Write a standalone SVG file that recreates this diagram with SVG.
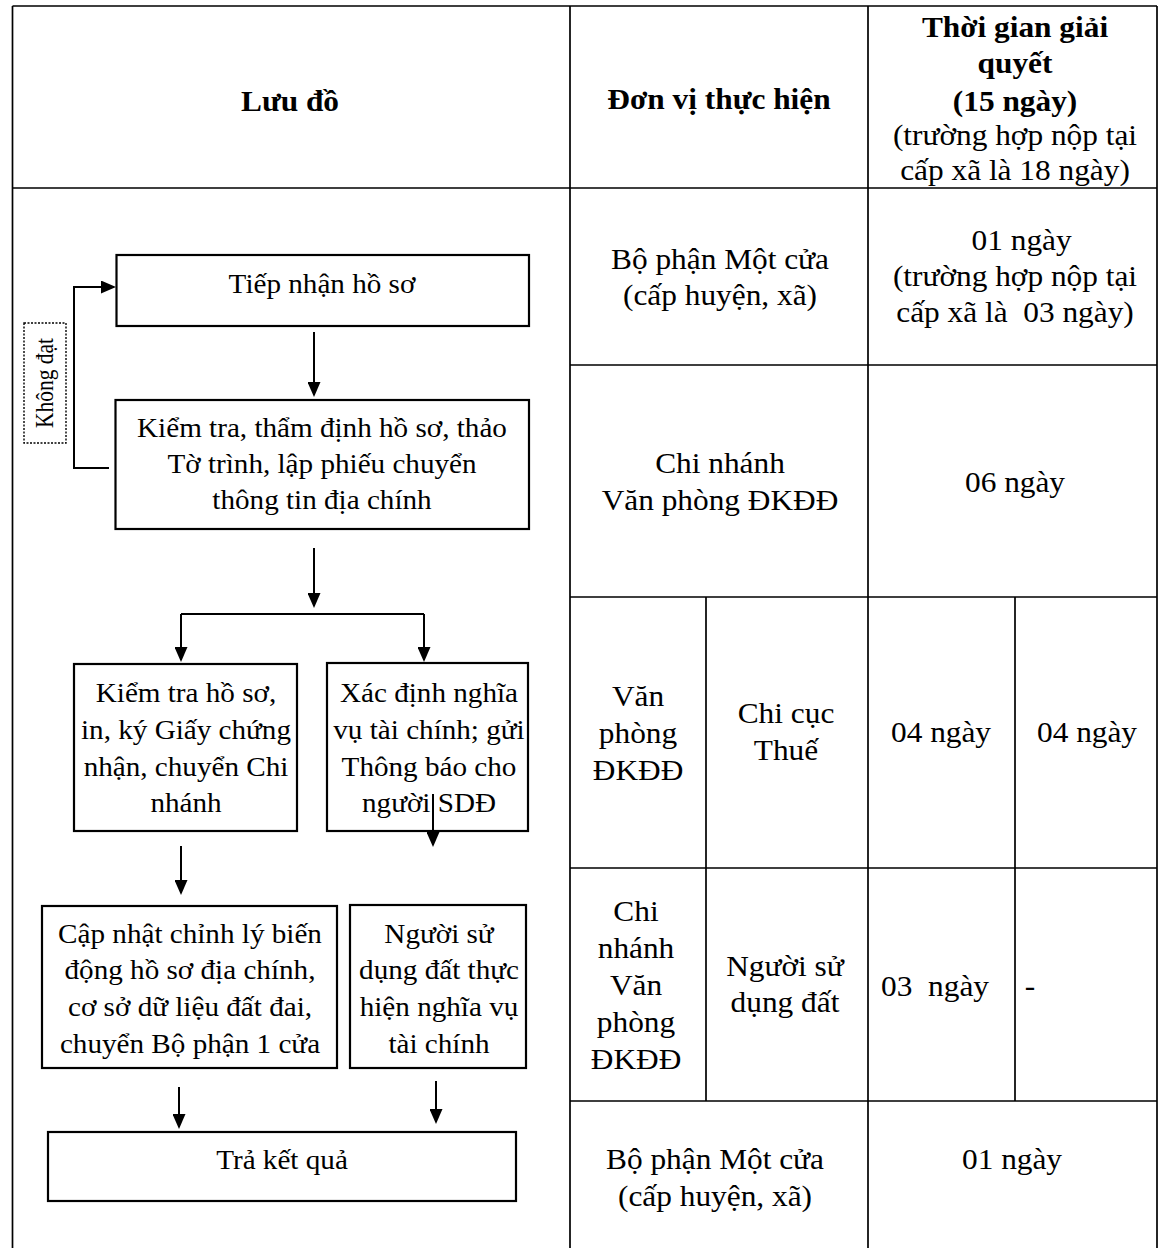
<svg xmlns="http://www.w3.org/2000/svg" width="1158" height="1248" viewBox="0 0 1158 1248">
<style>
.tbl{stroke:#000;stroke-width:1.7;fill:none}
.box{fill:none;stroke:#000;stroke-width:2.2}
.c{stroke:#000;stroke-width:2;fill:none}
.dash{fill:none;stroke:#000;stroke-width:1.4;stroke-dasharray:2 1.5}
.t{font-family:"Liberation Serif","Times New Roman",serif;font-size:28.5px;fill:#000;text-anchor:middle}
.b{font-weight:bold}
.f{font-size:26.5px}
.k{font-size:21.5px}
</style>
<defs>
<marker id="ah" markerUnits="userSpaceOnUse" markerWidth="15" markerHeight="13" refX="13" refY="6.5" orient="auto">
<path d="M0,0 L15,6.5 L0,13 z" fill="#000"/>
</marker>
</defs>
<rect x="0" y="0" width="1158" height="1248" fill="#fff"/>

<g id="table">
<path class="tbl" d="M12.5,6 V1248 M12.5,6 H1157 M1157,6 V1248 M12.5,188 H1157 M570,6 V1248 M868,6 V1248 M570,365 H1157 M570,597 H1157 M570,868 H1157 M570,1101 H1157 M706,597 V1101 M1015,597 V1101"/>
</g>

<g id="header">
<text class="t b" transform="translate(290 111) scale(1.1 1)">Lưu đồ</text>
<text class="t b" transform="translate(719 109) scale(1.1 1)">Đơn vị thực hiện</text>
<text class="t" transform="translate(1015 37) scale(1.1 1)"><tspan class="b" x="0" y="0">Thời gian giải</tspan><tspan class="b" x="0" y="36">quyết</tspan><tspan class="b" x="0" y="74">(15 ngày)</tspan><tspan x="0" y="108">(trường hợp nộp tại</tspan><tspan x="0" y="143">cấp xã là 18 ngày)</tspan></text>
</g>

<g id="row1">
<text class="t" transform="translate(720 269) scale(1.1 1)"><tspan x="0" y="0">Bộ phận Một cửa</tspan><tspan x="0" y="36">(cấp huyện, xã)</tspan></text>
<text class="t" transform="translate(1015 250) scale(1.1 1)"><tspan x="6" y="0">01 ngày</tspan><tspan x="0" y="36">(trường hợp nộp tại</tspan><tspan x="0" y="72">cấp xã là&#160; 03 ngày)</tspan></text>
</g>

<g id="row2">
<text class="t" transform="translate(720 473) scale(1.1 1)"><tspan x="0" y="0">Chi nhánh</tspan><tspan x="0" y="37">Văn phòng ĐKĐĐ</tspan></text>
<text class="t" transform="translate(1015 492) scale(1.1 1)">06 ngày</text>
</g>

<g id="row3">
<text class="t" transform="translate(638 706) scale(1.1 1)"><tspan x="0" y="0">Văn</tspan><tspan x="0" y="37">phòng</tspan><tspan x="0" y="74">ĐKĐĐ</tspan></text>
<text class="t" transform="translate(786 723) scale(1.1 1)"><tspan x="0" y="0">Chi cục</tspan><tspan x="0" y="37">Thuế</tspan></text>
<text class="t" transform="translate(941 742) scale(1.1 1)">04 ngày</text>
<text class="t" transform="translate(1087 742) scale(1.1 1)">04 ngày</text>
</g>

<g id="row4">
<text class="t" transform="translate(636 921) scale(1.1 1)"><tspan x="0" y="0">Chi</tspan><tspan x="0" y="37">nhánh</tspan><tspan x="0" y="74">Văn</tspan><tspan x="0" y="111">phòng</tspan><tspan x="0" y="148">ĐKĐĐ</tspan></text>
<text class="t" transform="translate(785 976) scale(1.1 1)"><tspan x="0" y="0">Người sử</tspan><tspan x="0" y="36">dụng đất</tspan></text>
<text class="t" transform="translate(935 996) scale(1.1 1)">03&#160; ngày</text>
<text class="t" transform="translate(1030 996) scale(1.1 1)">-</text>
</g>

<g id="row5">
<text class="t" transform="translate(715 1169) scale(1.1 1)"><tspan x="0" y="0">Bộ phận Một cửa</tspan><tspan x="0" y="37">(cấp huyện, xã)</tspan></text>
<text class="t" transform="translate(1012 1169) scale(1.1 1)">01 ngày</text>
</g>

<g id="n1">
<rect class="box" x="116.5" y="255" width="412.5" height="71"/>
<text class="t f" transform="translate(322 293) scale(1.1 1)">Tiếp nhận hồ sơ</text>
</g>

<g id="n2">
<rect class="box" x="115.5" y="400" width="413.5" height="129"/>
<text class="t f" transform="translate(322 437) scale(1.1 1)"><tspan x="0" y="0">Kiểm tra, thẩm định hồ sơ, thảo</tspan><tspan x="0" y="36">Tờ trình, lập phiếu chuyển</tspan><tspan x="0" y="72">thông tin địa chính</tspan></text>
</g>

<g id="n3">
<rect class="box" x="74" y="664" width="223" height="167"/>
<text class="t f" transform="translate(186 702) scale(1.1 1)"><tspan x="0" y="0">Kiểm tra hồ sơ,</tspan><tspan x="0" y="37">in, ký Giấy chứng</tspan><tspan x="0" y="74">nhận, chuyển Chi</tspan><tspan x="0" y="110">nhánh</tspan></text>
</g>

<g id="n4">
<rect class="box" x="327" y="663" width="201" height="168"/>
<text class="t f" transform="translate(429 702) scale(1.1 1)"><tspan x="0" y="0">Xác định nghĩa</tspan><tspan x="0" y="37">vụ tài chính; gửi</tspan><tspan x="0" y="74">Thông báo cho</tspan><tspan x="0" y="110">người SDĐ</tspan></text>
</g>

<g id="n5">
<rect class="box" x="42" y="906" width="295" height="162"/>
<text class="t f" transform="translate(190 943) scale(1.1 1)"><tspan x="0" y="0">Cập nhật chỉnh lý biến</tspan><tspan x="0" y="36">động hồ sơ địa chính,</tspan><tspan x="0" y="73">cơ sở dữ liệu đất đai,</tspan><tspan x="0" y="110">chuyển Bộ phận 1 cửa</tspan></text>
</g>

<g id="n6">
<rect class="box" x="350" y="905" width="176" height="163"/>
<text class="t f" transform="translate(439 943) scale(1.1 1)"><tspan x="0" y="0">Người sử</tspan><tspan x="0" y="36">dụng đất thực</tspan><tspan x="0" y="73">hiện nghĩa vụ</tspan><tspan x="0" y="110">tài chính</tspan></text>
</g>

<g id="n7">
<rect class="box" x="48" y="1132" width="468" height="69"/>
<text class="t f" transform="translate(282 1169) scale(1.1 1)">Trả kết quả</text>
</g>

<g id="label-khong-dat">
<rect class="dash" x="24" y="323" width="42" height="120"/>
<text class="t k" transform="translate(53 383) rotate(-90) scale(1 1.15)">Không đạt</text>
</g>

<g id="connectors">
<path class="c" d="M314,332 V395" marker-end="url(#ah)"/>
<path class="c" d="M109,468 H74 V287 H114" marker-end="url(#ah)"/>
<path class="c" d="M314,548 V606" marker-end="url(#ah)"/>
<path class="c" d="M181,614 H424"/>
<path class="c" d="M181,614 V660" marker-end="url(#ah)"/>
<path class="c" d="M424,614 V660" marker-end="url(#ah)"/>
<path class="c" d="M433,794 V845" marker-end="url(#ah)"/>
<path class="c" d="M181,846 V893" marker-end="url(#ah)"/>
<path class="c" d="M179,1087 V1127" marker-end="url(#ah)"/>
<path class="c" d="M436,1081 V1122" marker-end="url(#ah)"/>
</g>
</svg>
